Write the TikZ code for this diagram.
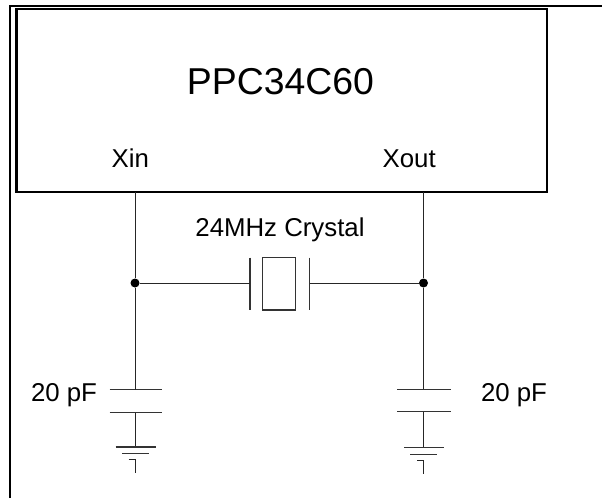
\documentclass[tikz,border=0pt]{standalone}
\usepackage{fontspec}
\setmainfont{Liberation Sans}
\begin{document}
\begin{tikzpicture}[x=1pt,y=-1pt,
  wire/.style={line width=0.9pt, black!85},
  plate/.style={line width=1.1pt, black!80},
  frame/.style={line width=2pt, black},
  lbl/.style={font=\fontsize{25.8}{28}\selectfont, inner sep=0pt, anchor=base},
  dot/.style={circle, fill=black, inner sep=0pt, minimum size=9pt}]
\useasboundingbox (0,0) rectangle (602,498);
% outer frame fragment
\draw[frame] (10,498) -- (10,6) -- (602,6);
% chip
\node[draw, line width=2.2pt, minimum width=530.5pt, minimum height=183pt, inner sep=0pt] (chip) at (281.75,100.5) {};
\node[lbl, font=\fontsize{37.4}{40}\selectfont] (title) at (280.5,94) {PPC34C60};
\node[lbl] (xin) at (130.3,167.3) {Xin};
\node[lbl] (xout) at (409.2,167.3) {Xout};
% pins and junctions
\coordinate (pinL) at (135,192);
\coordinate (pinR) at (423.5,192);
\node[dot] (jL) at (135,283) {};
\node[dot] (jR) at (423.5,283) {};
% crystal
\coordinate (xpL) at (250,283);
\coordinate (xpR) at (309.5,283);
\draw[plate] (250,257.5) -- (250,310);
\draw[plate] (309.5,257.5) -- (309.5,310);
\node[draw, plate, minimum width=33.4pt, minimum height=52.7pt, inner sep=0pt] (xtal) at (279,283.6) {};
\node[lbl] (xlabel) at (280,236) {24MHz Crystal};
\draw[wire] (jL) -- (xpL);
\draw[wire] (xpR) -- (jR);
\draw[wire] (pinL) -- (jL);
\draw[wire] (pinR) -- (jR);
% capacitors
\coordinate (cLt) at (135,389.6);
\coordinate (cLb) at (135,412.5);
\coordinate (cRt) at (423.5,389.2);
\coordinate (cRb) at (423.5,411.7);
\draw[plate] (109.6,389.6) -- (162.3,389.6);
\draw[plate] (109.6,412.5) -- (162.3,412.5);
\draw[plate] (397,389.2) -- (451,389.2);
\draw[plate] (397,411.7) -- (451,411.7);
\draw[wire] (jL) -- (cLt);
\draw[wire] (jR) -- (cRt);
\node[lbl] (capL) at (64,401) {20 pF};
\node[lbl] (capR) at (514,401) {20 pF};
% grounds
\coordinate (gL) at (135,447);
\coordinate (gR) at (423.5,447.3);
\draw[wire] (cLb) -- (gL);
\draw[wire] (cRb) -- (gR);
\draw[plate] (115.5,447) -- (155.5,447);
\draw[plate] (122,453.5) -- (148.5,453.5);
\draw[wire] (128.5,459.5) -- (135,459.5) -- (135,473);
\draw[plate] (404,447.3) -- (443.5,447.3);
\draw[plate] (410,454.3) -- (437,454.3);
\draw[wire] (417,460.5) -- (423.5,460.5) -- (423.5,473.5);
\end{tikzpicture}
\end{document}
